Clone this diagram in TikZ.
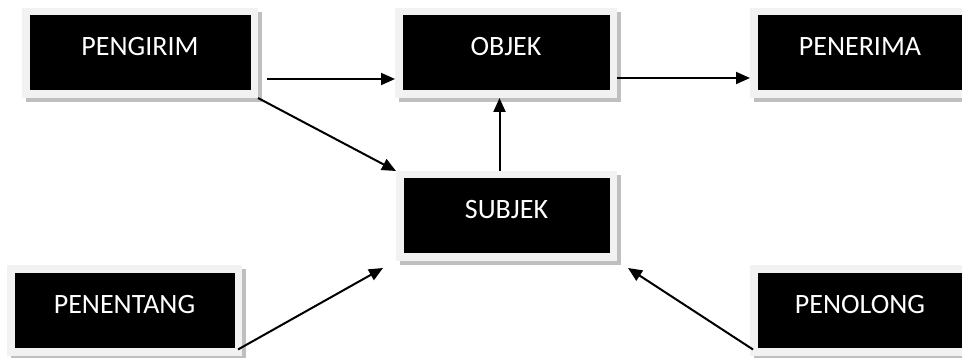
\documentclass[tikz,border=0pt]{standalone}
\usepackage{fontspec}
\setmainfont{Carlito}
\usetikzlibrary{arrows.meta,shadows}
\definecolor{framegray}{HTML}{F2F2F2}
\definecolor{shadowgray}{HTML}{BFBFBF}
\begin{document}
\begin{tikzpicture}[x=1pt,y=-1pt,
  actor/.style={fill=framegray, inner sep=0pt, outer sep=0pt,
    minimum height=90pt, text height=48pt, text depth=42pt,
    text=white, font=\fontsize{28}{32}\selectfont,
    drop shadow={shadow xshift=4pt, shadow yshift=-4pt, fill=shadowgray, opacity=1},
    path picture={\fill[black] ([shift={(7.5,7.5)}]path picture bounding box.north west) rectangle ([shift={(-7.5,-7.5)}]path picture bounding box.south east);}},
  link/.style={line width=2pt, -{Triangle[length=14pt,width=12pt]}}]
\useasboundingbox (0,0) rectangle (962,358);
\clip (0,0) rectangle (962,358);
\node[actor, minimum width=236pt] (pengirim) at (140,53) {PENGIRIM};
\node[actor, minimum width=222pt] (objek) at (506,53) {OBJEK};
\node[actor, minimum width=220pt] (penerima) at (860,53) {PENERIMA};
\node[actor, minimum width=221pt] (subjek) at (506.5,216) {SUBJEK};
\node[actor, minimum width=235pt] (penentang) at (124.5,310.5) {PENENTANG};
\node[actor, minimum width=220pt] (penolong) at (860,310.5) {PENOLONG};
\coordinate (a1) at ([shift={(9,-19)}]pengirim.south east);
\draw[link] (a1) -- (a1 -| objek.west);
\coordinate (a2) at ([shift={(0,-20)}]objek.south east);
\draw[link] (a2) -- (a2 -| penerima.west);
\draw[link] (pengirim.south east) -- (subjek.north west);
\coordinate (a3) at ([shift={(-7,0)}]subjek.north);
\draw[link] (a3) -- (a3 |- objek.south);
\draw[link] ([shift={(-4,-6)}]penentang.south east) -- ([shift={(-13,7)}]subjek.south west);
\draw[link] ([shift={(3,-6)}]penolong.south west) -- ([shift={(11,7)}]subjek.south east);
\end{tikzpicture}
\end{document}
